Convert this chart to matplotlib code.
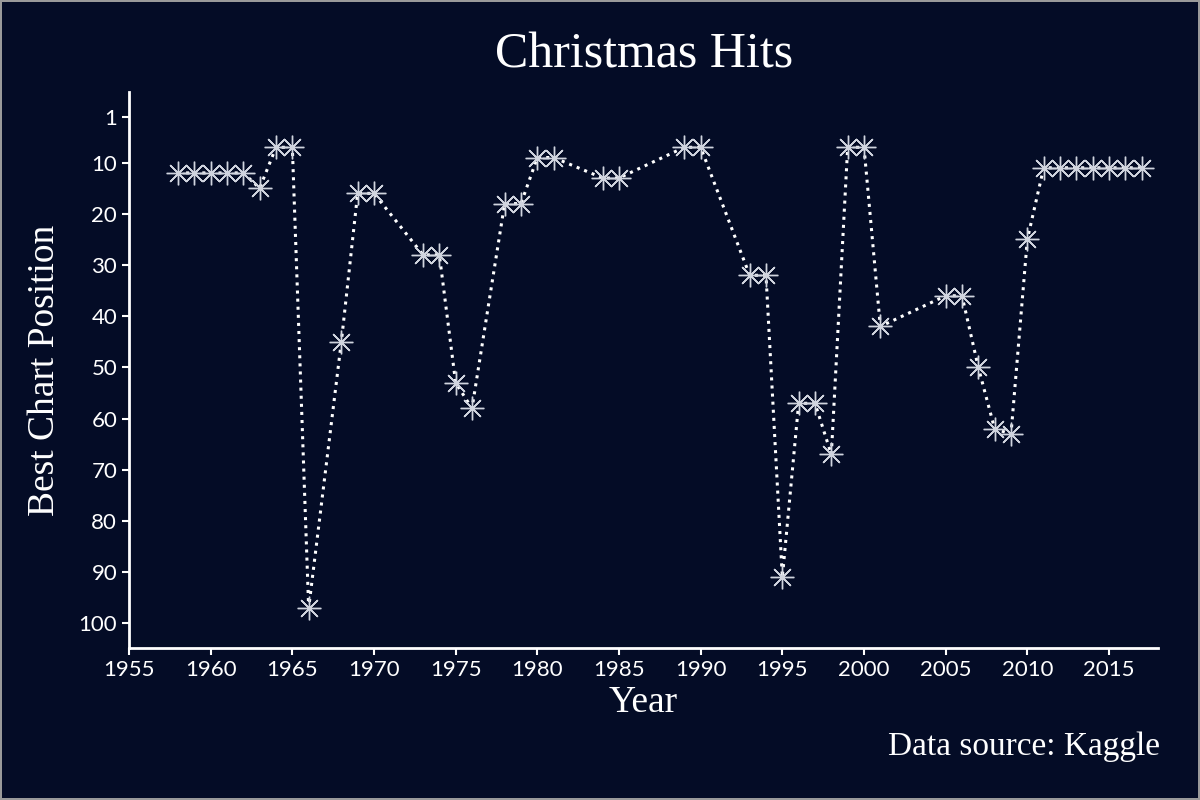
import matplotlib
matplotlib.use('Agg')
import matplotlib.pyplot as plt

# best chart position of christmas hits per year
years = [1958, 1959, 1960, 1961, 1962, 1963, 1964, 1965, 1966, 1968,
         1969, 1970, 1973, 1974, 1975, 1976, 1978, 1979, 1980, 1981,
         1984, 1985, 1989, 1990, 1993, 1994, 1995, 1996, 1997, 1998,
         1999, 2000, 2001, 2005, 2006, 2007, 2008, 2009, 2010, 2011,
         2012, 2013, 2014, 2015, 2016, 2017]
position = [12, 12, 12, 12, 12, 15, 7, 7, 97, 45,
            16, 16, 28, 28, 53, 58, 18, 18, 9, 9,
            13, 13, 7, 7, 32, 32, 91, 57, 57, 67,
            7, 7, 42, 36, 36, 50, 62, 63, 25, 11,
            11, 11, 11, 11, 11, 11]

x_ticks = [1955, 1960, 1965, 1970, 1975, 1980, 1985, 1990, 1995, 2000, 2005, 2010, 2015]
y_ticks = [1, 10, 20, 30, 40, 50, 60, 70, 80, 90, 100]

BG = '#040c26'
FG = 'white'
fancy = ['Liberation Serif', 'DejaVu Serif']
plain = ['Lato', 'DejaVu Sans']

fig = plt.figure(figsize=(12, 8), dpi=100, facecolor=BG, edgecolor='#9a9a9a', linewidth=1.5)
ax = fig.add_axes([0.1075, 0.19, 0.8575, 0.695])
ax.set_facecolor(BG)

ax.plot(years, position, linestyle=':', color=FG, linewidth=2.2,
        marker=(8, 2, 0), markersize=17, markeredgewidth=1.0,
        markeredgecolor='#d0d4de', markerfacecolor=FG)

ax.set_xlim(1955, 2018)
ax.set_ylim(104.8, -3.8)
ax.set_xticks(x_ticks)
ax.set_yticks(y_ticks)

for s in ['top', 'right']:
    ax.spines[s].set_visible(False)
for s in ['left', 'bottom']:
    ax.spines[s].set_color(FG)
    ax.spines[s].set_linewidth(2)

ax.tick_params(colors=FG, labelsize=16, width=1.5, length=5)
for lab in ax.get_xticklabels() + ax.get_yticklabels():
    lab.set_family(plain)

ax.set_xlabel('Year', color=FG, fontsize=27, family=fancy, labelpad=4)
ax.set_ylabel('Best Chart Position', color=FG, fontsize=27, family=fancy, labelpad=12)
fig.text(0.537, 0.931, 'Christmas Hits', color=FG, fontsize=36, family=fancy,
         ha='center', va='center')
fig.text(0.967, 0.067, 'Data source: Kaggle', color=FG, fontsize=24,
         family=fancy, ha='right', va='center')

fig.savefig('out.png', facecolor=BG, edgecolor=fig.get_edgecolor())
